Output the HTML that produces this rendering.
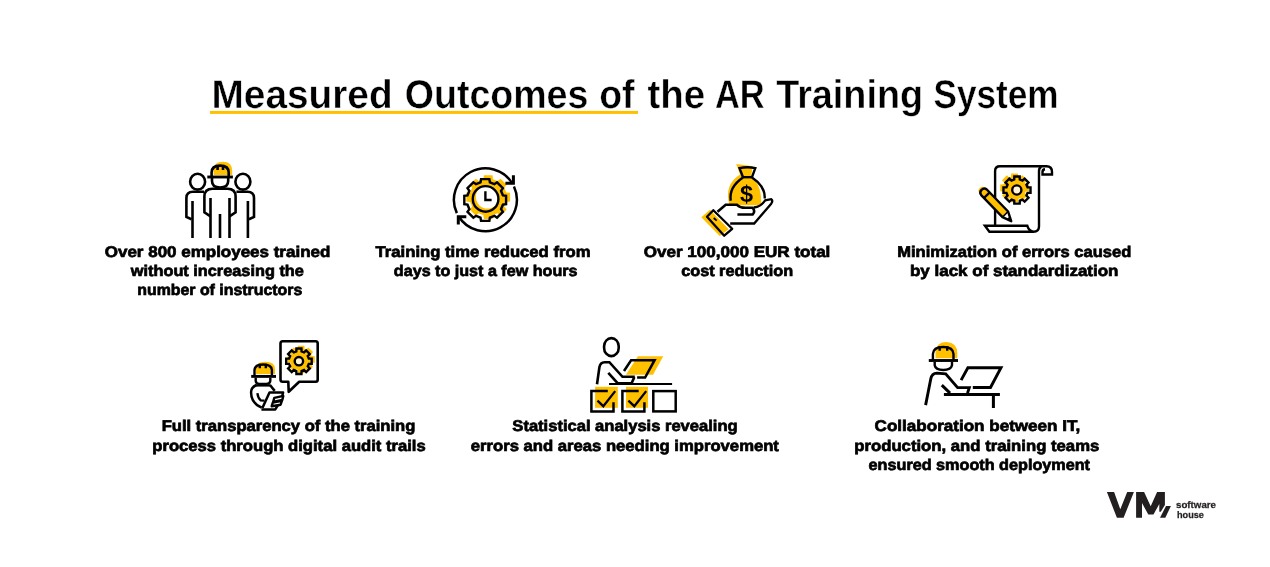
<!DOCTYPE html>
<html><head><meta charset="utf-8"><title>Measured Outcomes of the AR Training System</title>
<style>
html,body{margin:0;padding:0;background:#fff;}
body{width:1270px;height:567px;position:relative;overflow:hidden;font-family:"Liberation Sans",sans-serif;}
#w{position:absolute;left:0;top:0;width:1270px;height:567px;filter:blur(0.5px);}
svg{position:absolute;left:0;top:0;display:block;}
text{font-family:"Liberation Sans",sans-serif;font-weight:bold;fill:#000;text-rendering:geometricPrecision;}
.b{font-size:15.5px;stroke:#000;stroke-width:0.7px;}
.h{font-size:40px;stroke:#fff;stroke-width:0.4px;}
.g{font-size:9.5px;fill:#231f20;stroke:#231f20;stroke-width:0.25px;}
</style></head><body><div id="w">
<svg width="1270" height="567" viewBox="0 0 1270 567">
<rect x="210" y="110.9" width="428" height="3" fill="#ffc000"/>
<g fill="none" stroke="#000" stroke-width="2.4" stroke-linecap="butt" stroke-linejoin="miter">
<g stroke-width="2.6">
<path d="M213.6,175 V170 Q213.6,161.7 223,161.7 Q232.2,161.7 232.2,171 V175Z" fill="#ffc000" stroke="none"/>
<ellipse cx="197.6" cy="181.7" rx="7.5" ry="7.9"/>
<ellipse cx="242.9" cy="181.7" rx="7.5" ry="7.9"/>
<path d="M191.5,219.3 L186.4,217 V198 Q186.4,191.8 193,191.8 H204"/>
<path d="M192.5,201 V238"/>
<path d="M248.9,219.3 L254,217 V198 Q254,191.8 247.4,191.8 H236.4"/>
<path d="M247.9,201 V238"/>
<path d="M210.5,216.3 L204.4,212.3 V196.5 Q204.4,188.7 212.5,188.7 H227.5 Q235.6,188.7 235.6,196.5 V212.3 L229.5,216.3" fill="#fff"/>
<path d="M210.5,198 V238 M229.5,198 V238 M220,214 V238"/>
<path d="M212,178 V181 Q212,187.5 220.1,187.5 Q228.2,187.5 228.2,181 V178" fill="#fff"/>
<path d="M211.6,176 V172.5 Q211.6,165.6 220.1,165.6 Q228.7,165.6 228.7,172.5 V176"/>
<path d="M217.6,170 V165 M223,170 V165"/>
<path d="M207.3,177 H232.9" stroke-width="2.9"/>
</g>
<path d="M506.18,192.43 L510.07,192.85 L510.07,201.55 L506.18,201.97 L504.28,206.54 L506.74,209.59 L500.59,215.74 L497.54,213.28 L492.97,215.18 L492.55,219.07 L483.85,219.07 L483.43,215.18 L478.86,213.28 L475.81,215.74 L469.66,209.59 L472.12,206.54 L470.22,201.97 L466.33,201.55 L466.33,192.85 L470.22,192.43 L472.12,187.86 L469.66,184.81 L475.81,178.66 L478.86,181.12 L483.43,179.22 L483.85,175.33 L492.55,175.33 L492.97,179.22 L497.54,181.12 L500.59,178.66 L506.74,184.81 L504.28,187.86Z M475.90,197.00a11.50,11.50 0 1,0 23.00,0a11.50,11.50 0 1,0 -23.00,0Z" fill="#ffc000" stroke="none" fill-rule="evenodd"/>
<path d="M502.89,195.31 L506.09,195.84 L506.09,204.16 L502.89,204.69 L501.02,209.19 L502.91,211.83 L497.03,217.71 L494.39,215.82 L489.89,217.69 L489.36,220.89 L481.04,220.89 L480.51,217.69 L476.01,215.82 L473.37,217.71 L467.49,211.83 L469.38,209.19 L467.51,204.69 L464.31,204.16 L464.31,195.84 L467.51,195.31 L469.38,190.81 L467.49,188.17 L473.37,182.29 L476.01,184.18 L480.51,182.31 L481.04,179.11 L489.36,179.11 L489.89,182.31 L494.39,184.18 L497.03,182.29 L502.91,188.17 L501.02,190.81Z" stroke-linejoin="miter"/>
<circle cx="485.6" cy="198.9" r="12.8"/>
<path d="M485.4,191.3 V200 H491.6"/>
<path d="M456.85,213.11A31.5,31.5 0 0,1 512.40,183.58" stroke-width="2.5"/>
<path d="M513.95,186.49A31.5,31.5 0 0,1 458.69,216.49" stroke-width="2.5"/>
<path d="M513.4,175.2 V183.2 H505.4" stroke-width="3"/>
<path d="M458.3,224.4 V216.7 H466.3" stroke-width="3"/>
<path d="M736.2,164.0 L752.7,166.2 L751.2,176.0 Q762.5,186.5 761.0,205.2 L729.5,205.2 Q723.5,185.0 740.0,174.5 Z" fill="#ffc000" stroke="none"/>
<path d="M701.3,217.2 L710.0,209.7 L728.7,229.2 L719.7,236.0Z" fill="#ffc000" stroke="none"/>
<path d="M743.0,177.2 L739.5,168.2 Q747.5,166.2 755.3,168.2 L752.0,177.2"/>
<path d="M742.7,177.2 H752.3"/>
<path d="M743.0,177.5 Q728.7,187.2 730.7,200.7"/>
<path d="M752.0,177.5 Q765.5,186.5 764.7,198.5"/>
<path d="M717.5,211.7 L725.7,204.8 L737.0,204.8 Q740.0,207.8 745.2,207.8 L752.7,207.8 Q755.7,211.2 752.7,214.5 L737.4,214.5" stroke-width="2.6"/>
<path d="M753.8,207.5 Q761.0,206.7 765.2,200.3 L771.2,199.2 Q773.3,200.7 771.2,203.7 L754.2,223.5 L730.2,223.5" stroke-width="2.3"/>
<path d="M713.3,210.2 L732.2,228.8 L724.2,235.7 L707.0,216.8Z" stroke-width="2.3" stroke-linejoin="round"/>
<path d="M713.7,218.0 L716.7,220.7" stroke-width="1.8"/>
</g>
<text x="746.6" y="201.7" font-family="Liberation Sans, sans-serif" font-size="23.5" font-weight="bold" text-anchor="middle" fill="#000">$</text>
<g fill="none" stroke="#000" stroke-width="2.4">
<path d="M995.1,225 V171 Q995.1,166.3 1000,166.3 H1046.5 Q1052,166.3 1052,172 V174.5 H1042.5 V172 Q1042.5,169.5 1045,169.3"/>
<path d="M1041.5,166.8 Q1039,167.5 1039,171 V226.5 Q1039,231.8 1033.5,231.8 H989.4 L984.9,225.8 H1027.3 Q1029,231 1033.5,231.8"/>
<path d="M1025.63,184.32 L1028.99,184.45 L1028.99,191.35 L1025.63,191.48 L1024.94,193.17 L1027.22,195.63 L1022.33,200.52 L1019.87,198.24 L1018.18,198.93 L1018.05,202.29 L1011.15,202.29 L1011.02,198.93 L1009.33,198.24 L1006.87,200.52 L1001.98,195.63 L1004.26,193.17 L1003.57,191.48 L1000.21,191.35 L1000.21,184.45 L1003.57,184.32 L1004.26,182.63 L1001.98,180.17 L1006.87,175.28 L1009.33,177.56 L1011.02,176.87 L1011.15,173.51 L1018.05,173.51 L1018.18,176.87 L1019.87,177.56 L1022.33,175.28 L1027.22,180.17 L1024.94,182.63Z" fill="#ffc000" stroke="none"/>
<path d="M1027.54,187.31 L1030.53,187.41 L1030.53,192.79 L1027.54,192.89 L1026.43,195.57 L1028.47,197.77 L1024.67,201.57 L1022.47,199.53 L1019.79,200.64 L1019.69,203.63 L1014.31,203.63 L1014.21,200.64 L1011.53,199.53 L1009.33,201.57 L1005.53,197.77 L1007.57,195.57 L1006.46,192.89 L1003.47,192.79 L1003.47,187.41 L1006.46,187.31 L1007.57,184.63 L1005.53,182.43 L1009.33,178.63 L1011.53,180.67 L1014.21,179.56 L1014.31,176.57 L1019.69,176.57 L1019.79,179.56 L1022.47,180.67 L1024.67,178.63 L1028.47,182.43 L1026.43,184.63Z"/>
<circle cx="1016.8" cy="190" r="4.6" fill="#fff5d6"/>
<path d="M1008.1,211.5 L986.8,189.5 A4.0,4.0 0 0,0 981.2,195.1 L1002.5,217.1 L1011.2,221.2 Z" fill="#fff" stroke="none"/>
<path d="M1008.1,211.5 L986.8,189.5 A4.0,4.0 0 0,0 981.2,195.1 L1002.5,217.1 L1011.2,221.2 Z" fill="#ffc000" stroke="none" transform="translate(-1.8,-1.9)"/>
<path d="M1008.1,211.5 L1002.5,217.1 L1011.2,221.2Z" fill="#fff" stroke="none"/>
<path d="M1008.1,211.5 L986.8,189.5 A4.0,4.0 0 0,0 981.2,195.1 L1002.5,217.1 L1011.2,221.2 Z" stroke-linejoin="round"/>
<path d="M989.7,192.3 L984.0,198.0"/>
<path d="M1008.1,211.5 L1002.5,217.1" stroke-width="1.6"/>
<path d="M1009.7,216.3 L1006.8,219.2 L1011.2,221.2Z" fill="#000" stroke="none"/>
<path d="M256,373.9 V368 Q256.5,361.8 265,361.8 Q275,361.8 275,369 V373.9Z" fill="#ffc000" stroke="none"/>
<path d="M282.7,341.2 H315.7 Q317.7,341.2 317.7,343.5 V379.5 Q317.7,381.7 315.7,381.7 H299.2 L288.7,391.8 L288.3,381.7 H282.7 Q280.5,381.7 280.5,379.5 V343.5 Q280.5,341.2 282.7,341.2Z" stroke-width="2.6" stroke-linejoin="round"/>
<path d="M311.61,356.00 L314.76,356.13 L314.76,362.67 L311.61,362.80 L310.95,364.39 L313.08,366.71 L308.46,371.34 L306.14,369.20 L304.55,369.86 L304.42,373.01 L297.88,373.01 L297.75,369.86 L296.15,369.20 L293.83,371.34 L289.21,366.71 L291.35,364.39 L290.69,362.80 L287.53,362.67 L287.53,356.13 L290.69,356.00 L291.35,354.40 L289.21,352.08 L293.83,347.46 L296.15,349.60 L297.75,348.94 L297.88,345.79 L304.42,345.79 L304.55,348.94 L306.14,349.60 L308.46,347.46 L313.08,352.08 L310.95,354.40Z" fill="#ffc000" stroke="none"/>
<path d="M308.81,358.58 L311.70,358.66 L311.70,363.73 L308.81,363.81 L307.77,366.32 L309.76,368.42 L306.17,372.01 L304.07,370.02 L301.56,371.06 L301.48,373.95 L296.41,373.95 L296.33,371.06 L293.82,370.02 L291.72,372.01 L288.14,368.42 L290.13,366.32 L289.09,363.81 L286.20,363.73 L286.20,358.66 L289.09,358.58 L290.13,356.08 L288.14,353.98 L291.72,350.39 L293.82,352.38 L296.33,351.34 L296.41,348.45 L301.48,348.45 L301.56,351.34 L304.07,352.38 L306.17,350.39 L309.76,353.98 L307.77,356.08Z"/>
<circle cx="298.9" cy="361.2" r="4.2" fill="#fff5d6"/>
<path d="M254.5,375.3 V369.9 Q255.0,364.5 263.1,364.5 Q271.5,364.5 271.9,369.9 V375.3"/>
<path d="M259.8,368.3 V363.7 M265.8,368.3 V363.7"/>
<path d="M251.2,376.4 H276.0" stroke-width="2.9"/>
<path d="M255.7,377.8 V380.9 Q256.0,383.9 259.3,383.9 H266.4 Q270.0,383.9 270.3,380.9 V377.8"/>
<path d="M256.4,385.0 Q250.9,387.5 251.1,392.3 Q250.9,402.8 261.7,407.7" stroke-width="2.5"/>
<path d="M270.0,385.0 L274.7,390.9" stroke-width="2.5"/>
<path d="M255.7,385.4 H270.5" stroke-width="2.4"/>
<path d="M257.4,393.2 Q257.9,398.0 260.7,400.4 L264.5,400.7" stroke-width="2.3"/>
<path d="M262.4,408.0 L269.5,392.5 L283.1,392.5 L282.1,396.6" stroke-width="2.5" stroke-linejoin="round"/>
<path d="M261.4,409.4 L275.3,409.4 L278.3,404.7" stroke-width="2.5" stroke-linejoin="round"/>
<path d="M274.3,397.8 L283.3,395.9 L282.3,399.9 L273.2,401.8Z" fill="#fff" stroke-width="2.4" stroke-linejoin="round"/>
<path d="M272.8,402.6 L282.0,400.7 L280.6,404.7 L271.7,406.2Z" fill="#fff" stroke-width="2.4" stroke-linejoin="round"/>
<path d="M637.9,356.2 L663.3,356.2 L653.0,374.8 L626.0,374.8Z" fill="#ffc000" stroke="none"/>
<rect x="595.1" y="386.8" width="22.7" height="21" fill="#ffc000" stroke="none"/>
<rect x="626" y="386.8" width="22" height="21" fill="#ffc000" stroke="none"/>
<rect x="604.1" y="338.1" width="14.6" height="18" rx="7.3" ry="8.2" stroke-width="2.6"/>
<path d="M597.0,384.3 L599.4,367.3 Q600.3,362.2 604.6,362.2 L609.4,362.2 L622.5,376.8 L634.8,376.8" stroke-width="2.6"/>
<path d="M608.3,372.9 L617.6,383.2 L631.6,383.2 L634.3,377.1" stroke-width="2.6"/>
<path d="M609.0,384.0 H672.1" stroke-width="2.1"/>
<path d="M624.0,371.0 L631.1,360.2 L654.6,360.2 L645.1,377.6 L637.1,377.6" stroke-width="2.5"/>
<path d="M607.8,391.1 H591.4 V411.4 H613.5 V402.2" stroke-width="2.5"/>
<path d="M597.5,400.6 L603.3,406.2 L615.2,391.1" stroke-width="2.3"/>
<path d="M638.7,391.1 H622.4 V411.4 H644.4 V402.2" stroke-width="2.5"/>
<path d="M628.4,400.6 L634.3,406.2 L646.2,391.1" stroke-width="2.3"/>
<rect x="653.3" y="391.1" width="22.4" height="20.3" stroke-width="2.5"/>
<path d="M935.5,358.3 V351.9 Q936.2,342.1 946.7,342.1 Q957.3,342.8 957.3,353.3 V358.3Z" fill="#ffc000" stroke="none"/>
<path d="M932.9,359.7 V354.0 Q933.3,347.0 943.2,347.0 Q953.1,347.0 953.5,354.0 V359.7"/>
<path d="M939.7,350.8 V346.3 M947.2,350.8 V346.3"/>
<path d="M928.8,360.5 H958.0" stroke-width="2.9"/>
<path d="M934.7,361.8 V365.3 Q935.5,370.0 943.2,370.0 Q951.0,370.0 952.0,365.3 V361.8"/>
<path d="M925.6,405.1 L930.8,378.7 Q931.9,373.4 936.9,373.1 L945.7,373.8 L957.6,387.6 L969.3,387.6 L967.5,393.1" stroke-width="2.9"/>
<path d="M941.8,385.1 L950.0,393.1" stroke-width="2.9"/>
<path d="M943.9,394.4 H999.9 M993.4,394.4 V407.9" stroke-width="3"/>
<path d="M961.1,380.1 L967.9,367.7 L1001.0,367.7 L990.5,387.5 L972.8,387.5" stroke-width="2.9"/>
</g>
<polygon points="1106.9,492.1 1114.1,492.1 1120.3,509.3 1127.2,492.1 1133.9,492.1 1123.6,517.8 1116.9,517.8" fill="#231f20"/>
<polygon points="1136.1,517.8 1136.1,492.1 1144.1,492.1 1150.7,506.2 1157.1,492.1 1164.9,492.1 1164.9,504.9 1160.8,511.8 1159.3,511.8 1159.3,503.9 1153.5,514.6 1148.3,514.6 1142.0,503.0 1142.0,517.8" fill="#231f20"/>
<polygon points="1166.0,506.0 1170.9,506.0 1165.3,517.8 1160.0,517.8" fill="#231f20"/>
<g font-family="Liberation Sans, sans-serif" font-weight="bold">
<text class="b" transform="translate(104.78,257.00) scale(1.0953,1)">Over 800 employees trained</text>
<text class="b" transform="translate(130.82,276.00) scale(1.0519,1)">without increasing the</text>
<text class="b" transform="translate(137.23,295.00) scale(1.0249,1)">number of instructors</text>
<text class="b" transform="translate(375.58,257.00) scale(1.0755,1)">Training time reduced from</text>
<text class="b" transform="translate(393.86,276.00) scale(1.0400,1)">days to just a few hours</text>
<text class="b" transform="translate(643.78,257.00) scale(1.0993,1)">Over 100,000 EUR total</text>
<text class="b" transform="translate(681.17,276.00) scale(1.0484,1)">cost reduction</text>
<text class="b" transform="translate(897.21,257.00) scale(1.0655,1)">Minimization of errors caused</text>
<text class="b" transform="translate(909.99,276.00) scale(1.0951,1)">by lack of standardization</text>
<text class="b" transform="translate(161.70,431.00) scale(1.0709,1)">Full transparency of the training</text>
<text class="b" transform="translate(152.30,451.00) scale(1.0725,1)">process through digital audit trails</text>
<text class="b" transform="translate(512.37,431.00) scale(1.0671,1)">Statistical analysis revealing</text>
<text class="b" transform="translate(470.78,451.00) scale(1.0742,1)">errors and areas needing improvement</text>
<text class="b" transform="translate(874.59,431.00) scale(1.1005,1)">Collaboration between IT,</text>
<text class="b" transform="translate(854.30,451.00) scale(1.0776,1)">production, and training teams</text>
<text class="b" transform="translate(868.57,470.00) scale(1.0452,1)">ensured smooth deployment</text>
<text class="h" transform="translate(211.57,108.00) scale(0.9692,1)">Measured</text>
<text class="h" transform="translate(404.87,108.00) scale(0.9380,1)">Outcomes</text>
<text class="h" transform="translate(599.28,108.00) scale(0.9343,1)">of</text>
<text class="h" transform="translate(647.41,108.00) scale(0.9597,1)">the</text>
<text class="h" transform="translate(714.97,108.00) scale(0.8604,1)">AR</text>
<text class="h" transform="translate(776.21,108.00) scale(0.9435,1)">Training</text>
<text class="h" transform="translate(933.55,108.00) scale(0.8784,1)">System</text>
<text class="g" transform="translate(1176.00,507.60) scale(1.0236,1)">software</text>
<text class="g" transform="translate(1177.00,517.60) scale(0.9606,1)">house</text>
</g>
</svg>
</div></body></html>
